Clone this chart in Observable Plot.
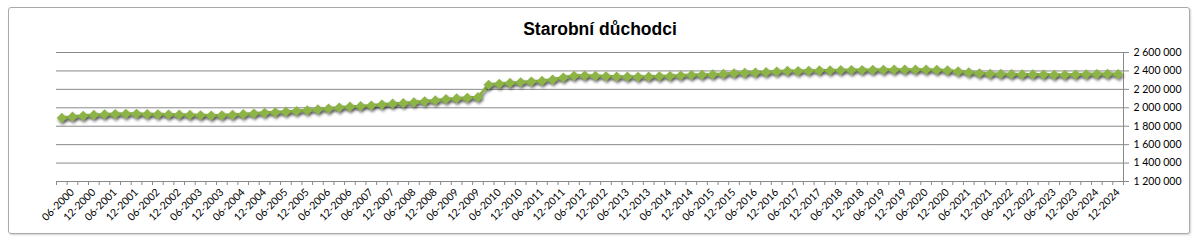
<!DOCTYPE html>
<html><head><meta charset="utf-8">
<script src="https://cdn.jsdelivr.net/npm/d3@7"></script>
<script src="https://cdn.jsdelivr.net/npm/@observablehq/plot@0.6"></script>
<style>
html,body{margin:0;padding:0;background:#fff;}
#wrap{position:relative;width:1200px;height:243px;overflow:hidden;}
#wrap svg{position:absolute;left:0;top:0;}
#border{position:absolute;left:8px;top:7px;width:1180px;height:225px;border:1px solid #a9a9a9;border-radius:3px;box-shadow:1px 1px 2px rgba(0,0,0,0.18);pointer-events:none;}
</style></head><body><div id="wrap"><div id="border"></div></div>
<script>
const title = "Starobní důchodci";

const periods = [
"03-2000","06-2000","09-2000","12-2000","03-2001","06-2001","09-2001","12-2001",
"03-2002","06-2002","09-2002","12-2002","03-2003","06-2003","09-2003","12-2003",
"03-2004","06-2004","09-2004","12-2004","03-2005","06-2005","09-2005","12-2005",
"03-2006","06-2006","09-2006","12-2006","03-2007","06-2007","09-2007","12-2007",
"03-2008","06-2008","09-2008","12-2008","03-2009","06-2009","09-2009","12-2009",
"03-2010","06-2010","09-2010","12-2010","03-2011","06-2011","09-2011","12-2011",
"03-2012","06-2012","09-2012","12-2012","03-2013","06-2013","09-2013","12-2013",
"03-2014","06-2014","09-2014","12-2014","03-2015","06-2015","09-2015","12-2015",
"03-2016","06-2016","09-2016","12-2016","03-2017","06-2017","09-2017","12-2017",
"03-2018","06-2018","09-2018","12-2018","03-2019","06-2019","09-2019","12-2019",
"03-2020","06-2020","09-2020","12-2020","03-2021","06-2021","09-2021","12-2021",
"03-2022","06-2022","09-2022","12-2022","03-2023","06-2023","09-2023","12-2023",
"03-2024","06-2024","09-2024","12-2024"
];

const values = [
1890000,1903000,1913000,1922000,1928000,1932000,1935000,1934000,
1931000,1929000,1927000,1925000,1922000,1919000,1916000,1918000,
1924000,1931000,1938000,1945000,1951000,1958000,1965000,1973000,
1982000,1992000,2002000,2012000,2017000,2025000,2035000,2045000,
2050000,2060000,2070000,2080000,2094000,2102000,2108000,2115000,
2250000,2260000,2270000,2277000,2284000,2292000,2306000,2328000,
2347000,2350000,2346000,2342000,2338000,2338000,2336000,2338000,
2342000,2344000,2350000,2356000,2358000,2362000,2368000,2375000,
2379000,2382000,2386000,2393000,2400000,2398000,2402000,2405000,
2406000,2408000,2409000,2410000,2411000,2412000,2413000,2414000,
2414000,2413000,2411000,2405000,2395000,2385000,2375000,2369000,
2367000,2365000,2362000,2362000,2360000,2358000,2358000,2361000,
2363000,2366000,2368000,2366000
];

const yTicks = [1200000,1400000,1600000,1800000,2000000,2200000,2400000,2600000];
const yTickLabels = ["1 200 000","1 400 000","1 600 000","1 800 000","2 000 000","2 200 000","2 400 000","2 600 000"];

const green = "#8db447";
const gridColor = "#8a8a8a";

const data = periods.map((p, i) => ({i, period: p, value: values[i]}));
const labelIdx = periods.map((p, i) => i).filter(i => /^(06|12)-/.test(periods[i]));
const boundaries = d3.range(-0.5, periods.length, 1);

const chart = Plot.plot({
  width: 1200,
  height: 243,
  marginLeft: 56,
  marginRight: 77,
  marginTop: 52,
  marginBottom: 62,
  style: {fontFamily: "Lato, 'Open Sans', sans-serif", fontSize: "10.5px", color: gridColor, background: "transparent", overflow: "visible"},
  x: {type: "linear", domain: [-0.5, periods.length - 0.5], axis: "bottom", ticks: boundaries, tickFormat: () => "", tickSize: 4, label: null},
  y: {domain: [1200000, 2600000], axis: "right", ticks: yTicks, tickSize: 5, tickPadding: 5, tickFormat: d => yTickLabels[yTicks.indexOf(d)], label: null},
  marks: [
    Plot.ruleY(yTicks, {stroke: gridColor, strokeWidth: 1}),
    Plot.ruleX([periods.length - 0.5], {y1: 1200000, y2: 2600000, stroke: gridColor, strokeWidth: 1}),
    Plot.text(labelIdx, {x: d => d, text: d => periods[d], frameAnchor: "bottom", dy: 9, rotate: -45, textAnchor: "end", lineAnchor: "middle", fill: "#000", fontSize: 10.5}),
    Plot.line(data, {x: "i", y: "value", stroke: green, strokeWidth: 3}),
    Plot.dot(data, {x: "i", y: "value", symbol: "diamond2", r: 4.6, fill: green, stroke: "none"}),
    Plot.text([title], {frameAnchor: "top", dx: 10, dy: -18, lineAnchor: "bottom", text: d => d, fill: "#000", fontSize: 17.5, fontWeight: "bold", fontFamily: "'Liberation Sans', Arial, sans-serif"})
  ]
});

const svg = d3.select(chart);
svg.selectAll("g[aria-label^='y-axis'] text").attr("fill", "#000");
const defs = svg.insert("defs", ":first-child");
const f = defs.append("filter").attr("id", "shadow").attr("x", "-20%").attr("y", "-50%").attr("width", "140%").attr("height", "200%");
f.append("feGaussianBlur").attr("in", "SourceAlpha").attr("stdDeviation", 1.4).attr("result", "blur");
f.append("feOffset").attr("in", "blur").attr("dx", 0.8).attr("dy", 2.2).attr("result", "off");
f.append("feComponentTransfer").attr("in", "off").attr("result", "sh").append("feFuncA").attr("type", "linear").attr("slope", 0.55);
const m = f.append("feMerge");
m.append("feMergeNode").attr("in", "sh");
m.append("feMergeNode").attr("in", "SourceGraphic");
svg.selectAll("g[aria-label='line'], g[aria-label='dot']").attr("filter", "url(#shadow)");

document.getElementById("wrap").appendChild(chart);
</script>
</body></html>
